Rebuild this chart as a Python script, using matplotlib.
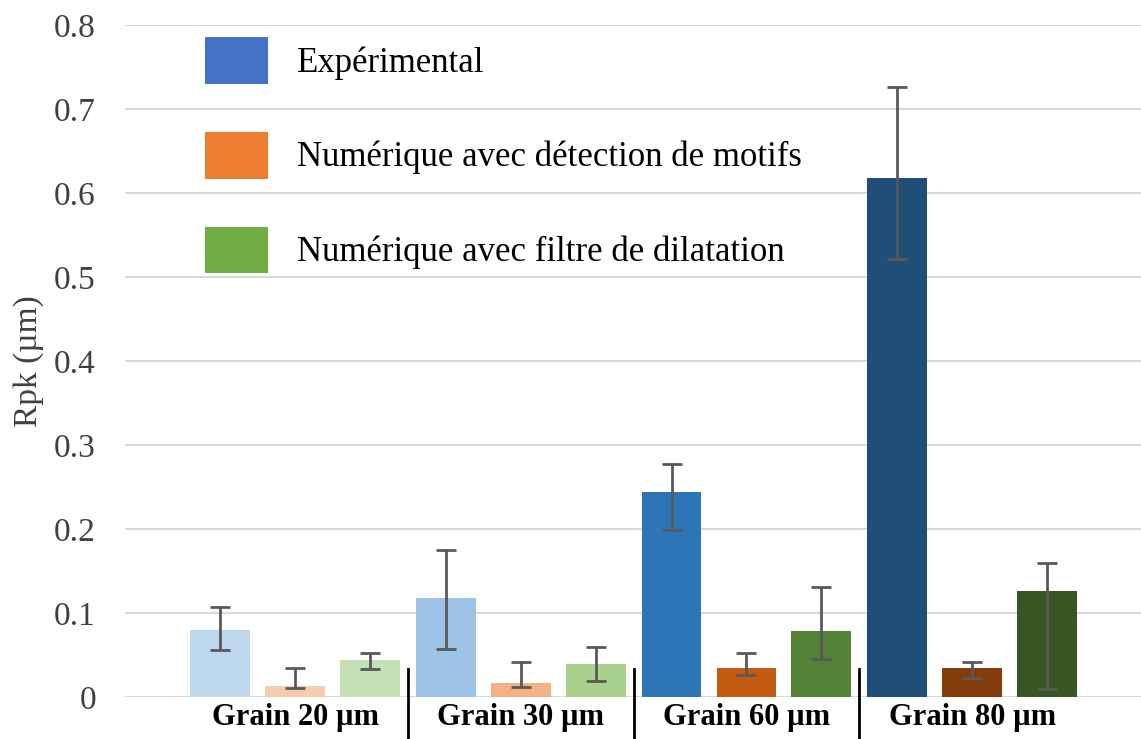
import numpy as np
import matplotlib
matplotlib.use('Agg')
import matplotlib.pyplot as plt
from matplotlib.patches import Patch

plt.rcParams['font.family'] = ['Liberation Serif', 'DejaVu Serif']

# ---- données : Rpk moyen et bornes des barres d'erreur (µm) ----
groups = ['Grain 20 µm', 'Grain 30 µm', 'Grain 60 µm', 'Grain 80 µm']
series_names = ['Expérimental',
                'Numérique avec détection de motifs',
                'Numérique avec filtre de dilatation']

exp_vals = [0.080, 0.118, 0.244, 0.618]
exp_lo = [0.056, 0.057, 0.199, 0.521]
exp_hi = [0.107, 0.175, 0.277, 0.726]

motif_vals = [0.013, 0.017, 0.034, 0.034]
motif_lo = [0.011, 0.012, 0.026, 0.023]
motif_hi = [0.035, 0.042, 0.052, 0.042]

dil_vals = [0.044, 0.039, 0.079, 0.126]
dil_lo = [0.033, 0.019, 0.045, 0.010]
dil_hi = [0.052, 0.060, 0.131, 0.160]

# une teinte par grain (du plus clair au plus foncé), pour chaque série
exp_colors = ['#BDD7EE', '#9DC3E6', '#2E75B6', '#1F4E79']
motif_colors = ['#F8CBAD', '#F4B183', '#C55A11', '#843C0C']
dil_colors = ['#C5E0B4', '#A9D18E', '#538135', '#375623']
legend_colors = ['#4472C4', '#ED7D31', '#70AD47']

y_ticks = [0, 0.1, 0.2, 0.3, 0.4, 0.5, 0.6, 0.7, 0.8]
y_ticklabels = ['0', '0.1', '0.2', '0.3', '0.4', '0.5', '0.6', '0.7', '0.8']

fig = plt.figure(figsize=(11.41, 7.39), dpi=100)
ax = fig.add_axes([0.1096, 0.0568, 0.8904, 0.9094])

x = np.arange(len(groups))
offset = 0.332
width = 0.265
series = [(exp_vals, exp_lo, exp_hi, exp_colors),
          (motif_vals, motif_lo, motif_hi, motif_colors),
          (dil_vals, dil_lo, dil_hi, dil_colors)]
for k, (vals, lo, hi, cols) in enumerate(series):
    vals = np.array(vals)
    yerr = [vals - np.array(lo), np.array(hi) - vals]
    ax.bar(x + (k - 1) * offset, vals, width, color=cols, zorder=2,
           yerr=yerr, ecolor='#595959',
           error_kw=dict(elinewidth=2, capsize=7, capthick=2, zorder=3))

ax.set_xlim(-0.753, 3.748)
ax.set_ylim(0, 0.8)
ax.set_yticks(y_ticks)
ax.set_yticklabels(y_ticklabels, fontsize=24, color='#404040')
ax.tick_params(axis='y', length=0, pad=21)
ax.set_xticks([])
ax.grid(axis='y', color='#D9D9D9', linewidth=1.5, zorder=0)
ax.set_axisbelow(True)
for sp in ax.spines.values():
    sp.set_visible(False)

ax.set_ylabel('Rpk (µm)', fontsize=24, color='#404040')
ax.yaxis.set_label_coords(-0.08, 0.50)

# étiquettes des groupes et séparateurs verticaux
for i, g in enumerate(groups):
    ax.text(i, -0.024, g, ha='center', va='center', fontsize=22,
            fontweight='bold', clip_on=False)
for b in x[:-1] + 0.5:
    ax.plot([b, b], [0.033, -0.07], color='black', lw=2, clip_on=False)

handles = [Patch(facecolor=c) for c in legend_colors]
fig.legend(handles, series_names, loc='upper left',
           bbox_to_anchor=(0.1797, 0.95), frameon=False, fontsize=25,
           borderpad=0, borderaxespad=0, handlelength=1.8, handleheight=1.7,
           labelspacing=1.38, handletextpad=0.84)

fig.savefig('out.png', dpi=100)
